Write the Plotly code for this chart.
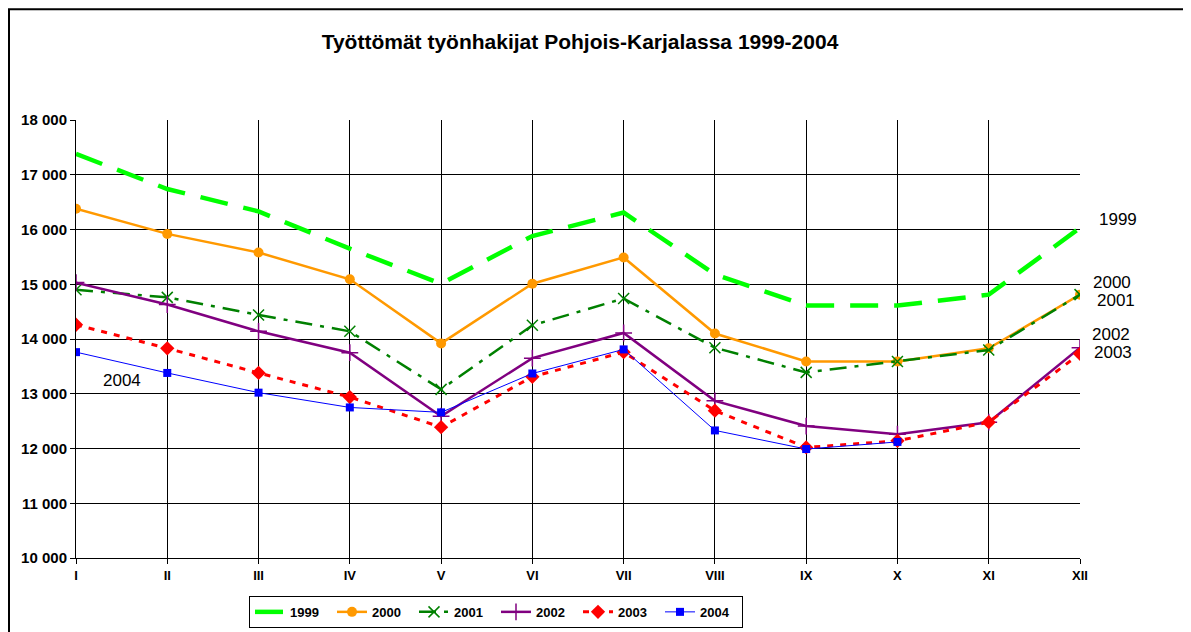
import plotly.graph_objects as go

months = ["I", "II", "III", "IV", "V", "VI", "VII", "VIII", "IX", "X", "XI", "XII"]
v1999 = [17380, 16740, 16330, 15650, 15010, 15880, 16310, 15180, 14610, 14610, 14810, 16030]
v2000 = [16380, 15920, 15580, 15090, 13920, 15010, 15490, 14100, 13590, 13590, 13830, 14810]
v2001 = [14900, 14760, 14440, 14140, 13080, 14250, 14740, 13840, 13390, 13590, 13800, 14810]
v2002 = [15030, 14630, 14140, 13750, 12590, 13650, 14110, 12870, 12410, 12260, 12480, 13840]
v2003 = [14260, 13830, 13380, 12940, 12390, 13310, 13760, 12690, 12020, 12140, 12480, 13730]
v2004 = [13760, 13380, 13020, 12750, 12660, 13370, 13810, 12330, 11990, 12120]

title = "Työttömät työnhakijat Pohjois-Karjalassa 1999-2004"
FONT = "Liberation Sans, Arial, sans-serif"

xi = list(range(len(months)))

fig = go.Figure()
fig.add_trace(go.Scatter(x=xi, y=v1999, name="1999", mode="lines",
                         line=dict(color="#00FF00", width=4.5, dash="28px,16px")))
fig.add_trace(go.Scatter(x=xi, y=v2000, name="2000", mode="lines+markers",
                         line=dict(color="#FF9900", width=2.5),
                         marker=dict(symbol="circle", size=10, color="#FF9900")))
fig.add_trace(go.Scatter(x=xi, y=v2001, name="2001", mode="lines+markers",
                         line=dict(color="#008000", width=2.5, dash="17px,8px,4px,8px"),
                         marker=dict(symbol="x-thin", size=11,
                                     line=dict(color="#008000", width=1.5))))
fig.add_trace(go.Scatter(x=xi, y=v2002, name="2002", mode="lines+markers",
                         line=dict(color="#800080", width=2.5),
                         marker=dict(symbol="cross-thin", size=12,
                                     line=dict(color="#800080", width=1.5))))
fig.add_trace(go.Scatter(x=xi, y=v2003, name="2003", mode="lines+markers",
                         line=dict(color="#FF0000", width=3, dash="6px,7px"),
                         marker=dict(symbol="diamond", size=11, color="#FF0000")))
fig.add_trace(go.Scatter(x=xi[:len(v2004)], y=v2004, name="2004", mode="lines+markers",
                         line=dict(color="#0000FF", width=1),
                         marker=dict(symbol="square", size=8, color="#0000FF")))

labels = [("1999", 16180, 1.017), ("2000", 15030, 1.011), ("2001", 14700, 1.015),
          ("2002", 14080, 1.010), ("2003", 13750, 1.012)]
for txt, yv, xp in labels:
    fig.add_annotation(x=xp, xref="paper", y=yv, yref="y", text=txt, showarrow=False,
                       xanchor="left", yanchor="middle",
                       font=dict(family=FONT, size=17, color="black"))
fig.add_annotation(x=0.5, xref="x", y=13240, yref="y", text="2004", showarrow=False,
                   xanchor="center", yanchor="middle",
                   font=dict(family=FONT, size=17, color="black"))

# outer chart border (top & left visible)
fig.add_shape(type="rect", xref="paper", yref="paper",
              x0=(9 - 76) / 1004, x1=(1200 - 76) / 1004,
              y0=(559 - 640) / 439, y1=(559 - 9) / 439,
              line=dict(color="black", width=2), layer="below")

fig.update_layout(
    width=1191, height=632,
    margin=dict(l=68, r=119, t=112, b=74),
    paper_bgcolor="white", plot_bgcolor="white",
    font=dict(family=FONT, color="black"),
    separators=". ",
    title=dict(text="<b>" + title + "</b>", x=572 / 1191, xanchor="center",
               y=1 - 34 / 632, yanchor="middle",
               font=dict(family=FONT, size=21, color="black")),
    showlegend=True,
    legend=dict(orientation="h", x=(249 - 76) / 1004, xanchor="left",
                y=(559 - 597) / 439, yanchor="top",
                bordercolor="black", borderwidth=1, bgcolor="white",
                font=dict(family=FONT, size=13, color="black", weight="bold"),
                entrywidth=37, entrywidthmode="pixels",
                traceorder="normal"),
)
fig.update_xaxes(range=[0, 11], tickvals=xi, ticktext=["<b>%s</b>" % m for m in months],
                 showgrid=True, gridcolor="black", gridwidth=1,
                 showline=True, linecolor="black", linewidth=1,
                 ticks="outside", ticklen=5, tickcolor="black",
                 tickfont=dict(family=FONT, size=13, color="black"),
                 zeroline=False, mirror=False)
fig.update_yaxes(range=[10000, 18000], dtick=1000, tickformat=",d",
                 showgrid=True, gridcolor="black", gridwidth=1,
                 showline=True, linecolor="black", linewidth=1,
                 ticks="outside", ticklen=5, tickcolor="black",
                 tickfont=dict(family=FONT, size=15, color="black", weight="bold"),
                 zeroline=False)

fig.write_html("out.html")
